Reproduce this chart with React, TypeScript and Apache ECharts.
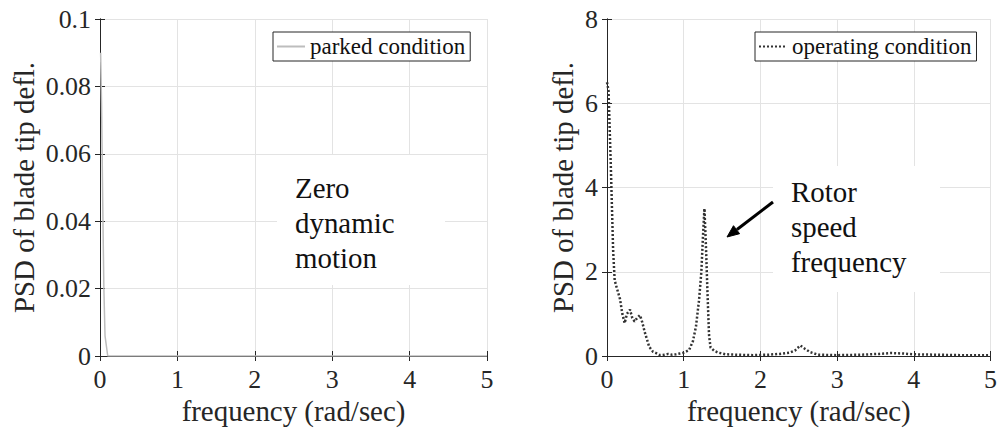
import React, { useEffect, useRef } from "react";
import * as echarts from "echarts";

const parkedFreq = [0.008, 0.02, 0.035, 0.05, 0.065, 0.1, 0.5, 1, 2, 3, 4, 5];
const parkedPsd = [0.09, 0.075, 0.046, 0.02, 0.006, 0, 0, 0, 0, 0, 0, 0];

const opFreq = [0, 0.02, 0.05, 0.08, 0.1, 0.13, 0.17, 0.2, 0.23, 0.26, 0.3, 0.33, 0.36, 0.4, 0.43, 0.46, 0.49, 0.55, 0.6, 0.64, 0.69, 0.75, 0.8, 0.85, 0.9, 0.95, 1.0, 1.07, 1.12, 1.16, 1.2, 1.23, 1.25, 1.27, 1.29, 1.31, 1.33, 1.35, 1.4, 1.45, 1.55, 1.7, 1.9, 2.1, 2.25, 2.38, 2.45, 2.52, 2.58, 2.65, 2.75, 3.0, 3.3, 3.55, 3.7, 3.85, 4.0, 4.3, 4.6, 5.0];
const opPsd = [6.5, 6.3, 4.5, 2.5, 1.8, 1.6, 1.35, 1.0, 0.78, 1.0, 1.1, 0.9, 0.82, 0.92, 0.97, 0.8, 0.58, 0.22, 0.1, 0.07, 0.02, 0.03, 0.05, 0.03, 0.04, 0.06, 0.08, 0.14, 0.35, 0.7, 1.33, 2.0, 2.8, 3.5, 2.6, 1.5, 0.5, 0.2, 0.12, 0.08, 0.04, 0.03, 0.02, 0.03, 0.05, 0.08, 0.13, 0.25, 0.17, 0.09, 0.03, 0.02, 0.03, 0.05, 0.07, 0.06, 0.04, 0.03, 0.02, 0.02];

const parkedName = "parked condition";
const opName = "operating condition";
const xName = "frequency (rad/sec)";
const yName = "PSD of blade tip defl.";
const noteLeft = ["Zero", "dynamic", "motion"];
const noteRight = ["Rotor", "speed", "frequency"];

const FONT = "'Liberation Serif', 'Times New Roman', serif";
const AXIS = "#262626";
const GRIDC = "#e3e3e3";
const TICK_FS = 25.9;
const NAME_FS = 28.9;

export default function App() {
  const ref = useRef<HTMLDivElement>(null);
  useEffect(() => {
    const chart = echarts.init(ref.current!, null, { renderer: "svg" });
    const grids = [
      { left: 100, top: 19, width: 387, height: 337 },
      { left: 607, top: 19, width: 387, height: 337 },
    ];
    const baseX = (gi: number) => ({
      type: "value",
      gridIndex: gi,
      min: 0,
      max: 5,
      interval: 1,
      name: xName,
      nameLocation: "middle",
      nameGap: 40,
      nameTextStyle: { fontFamily: FONT, fontSize: NAME_FS, color: AXIS },
      axisLine: { show: true, onZero: false, lineStyle: { color: AXIS, width: 1 } },
      axisTick: { show: true, inside: true, length: 5, lineStyle: { color: AXIS } },
      axisLabel: { fontFamily: FONT, fontSize: TICK_FS, color: AXIS, margin: 10 },
      splitLine: { show: true, lineStyle: { color: GRIDC, width: 1 } },
    });
    const topX = (gi: number) => ({
      type: "value",
      gridIndex: gi,
      position: "top",
      min: 0,
      max: 5,
      interval: 1,
      axisLine: { show: true, lineStyle: { color: AXIS, width: 1 } },
      axisTick: { show: true, inside: true, length: 5, lineStyle: { color: AXIS } },
      axisLabel: { show: false },
      splitLine: { show: false },
    });
    const rightY = (gi: number, max: number, interval: number) => ({
      type: "value",
      gridIndex: gi,
      position: "right",
      min: 0,
      max,
      interval,
      axisLine: { show: true, lineStyle: { color: AXIS, width: 1 } },
      axisTick: { show: true, inside: true, length: 5, lineStyle: { color: AXIS } },
      axisLabel: { show: false },
      splitLine: { show: false },
    });
    const leftY = (gi: number, max: number, interval: number, gap: number) => ({
      type: "value",
      gridIndex: gi,
      min: 0,
      max,
      interval,
      name: yName,
      nameLocation: "middle",
      nameRotate: 90,
      nameGap: gap,
      nameTextStyle: { fontFamily: FONT, fontSize: NAME_FS, color: AXIS },
      axisLine: { show: true, onZero: false, lineStyle: { color: AXIS, width: 1 } },
      axisTick: { show: true, inside: true, length: 5, lineStyle: { color: AXIS } },
      axisLabel: { fontFamily: FONT, fontSize: TICK_FS, color: AXIS, margin: 9 },
      splitLine: { show: true, lineStyle: { color: GRIDC, width: 1 } },
    });

    const textLines = (lines: string[], x: number, y: number) =>
      lines.map((t, i) => ({
        type: "text",
        z: 101,
        x,
        y: y + i * 35,
        style: {
          text: t,
          fontFamily: FONT,
          fontSize: NAME_FS,
          fill: "#111",
          verticalAlign: "top",
        },
      }));

    const legendBase = {
      top: 32,
      padding: [3, 5, 3, 3],
      itemWidth: 28,
      itemHeight: 14,
      borderColor: AXIS,
      borderWidth: 1,
      backgroundColor: "#fff",
      borderRadius: 0,
      itemStyle: { opacity: 0 },
      textStyle: { fontFamily: FONT, fontSize: 23, color: "#111" },
    };

    chart.setOption({
      animation: false,
      backgroundColor: "#fff",
      grid: grids,
      xAxis: [baseX(0), baseX(1), topX(0), topX(1)],
      yAxis: [leftY(0, 0.1, 0.02, 62), leftY(1, 8, 2, 30), rightY(0, 0.1, 0.02), rightY(1, 8, 2)],
      legend: [
        { ...legendBase, data: [parkedName], left: 273 },
        { ...legendBase, data: [opName], left: 755 },
      ],
      series: [
        {
          name: parkedName,
          type: "line",
          xAxisIndex: 0,
          yAxisIndex: 0,
          symbol: "none",
          data: parkedFreq.map((f, i) => [f, parkedPsd[i]]),
          lineStyle: { color: "#bdbdbd", width: 1.5 },
          itemStyle: { color: "#bdbdbd" },
          z: 5,
        },
        {
          name: opName,
          type: "line",
          xAxisIndex: 1,
          yAxisIndex: 1,
          symbol: "none",
          data: opFreq.map((f, i) => [f, opPsd[i]]),
          lineStyle: { color: "#333", width: 2.5, type: [2, 2] },
          itemStyle: { color: "#333" },
          z: 5,
        },
      ],
      graphic: [
        { type: "rect", z: 100, shape: { x: 277, y: 155, width: 168, height: 130 }, style: { fill: "#fff" } },
        ...textLines(noteLeft, 295, 173),
        { type: "rect", z: 100, shape: { x: 773, y: 166, width: 167, height: 126 }, style: { fill: "#fff" } },
        ...textLines(noteRight, 791, 177),
        {
          type: "line",
          z: 102,
          shape: { x1: 773, y1: 202, x2: 737, y2: 229.5 },
          style: { stroke: "#000", lineWidth: 3 },
        },
        {
          type: "polygon",
          z: 102,
          shape: { points: [[727, 237], [739.6, 233.7], [733.5, 225.7]] },
          style: { fill: "#000", stroke: "#000", lineWidth: 1 },
        },
      ],
    });
    return () => chart.dispose();
  }, []);
  return <div ref={ref} style={{ width: 1000, height: 433, position: "absolute", left: 0, top: 0 }} />;
}
